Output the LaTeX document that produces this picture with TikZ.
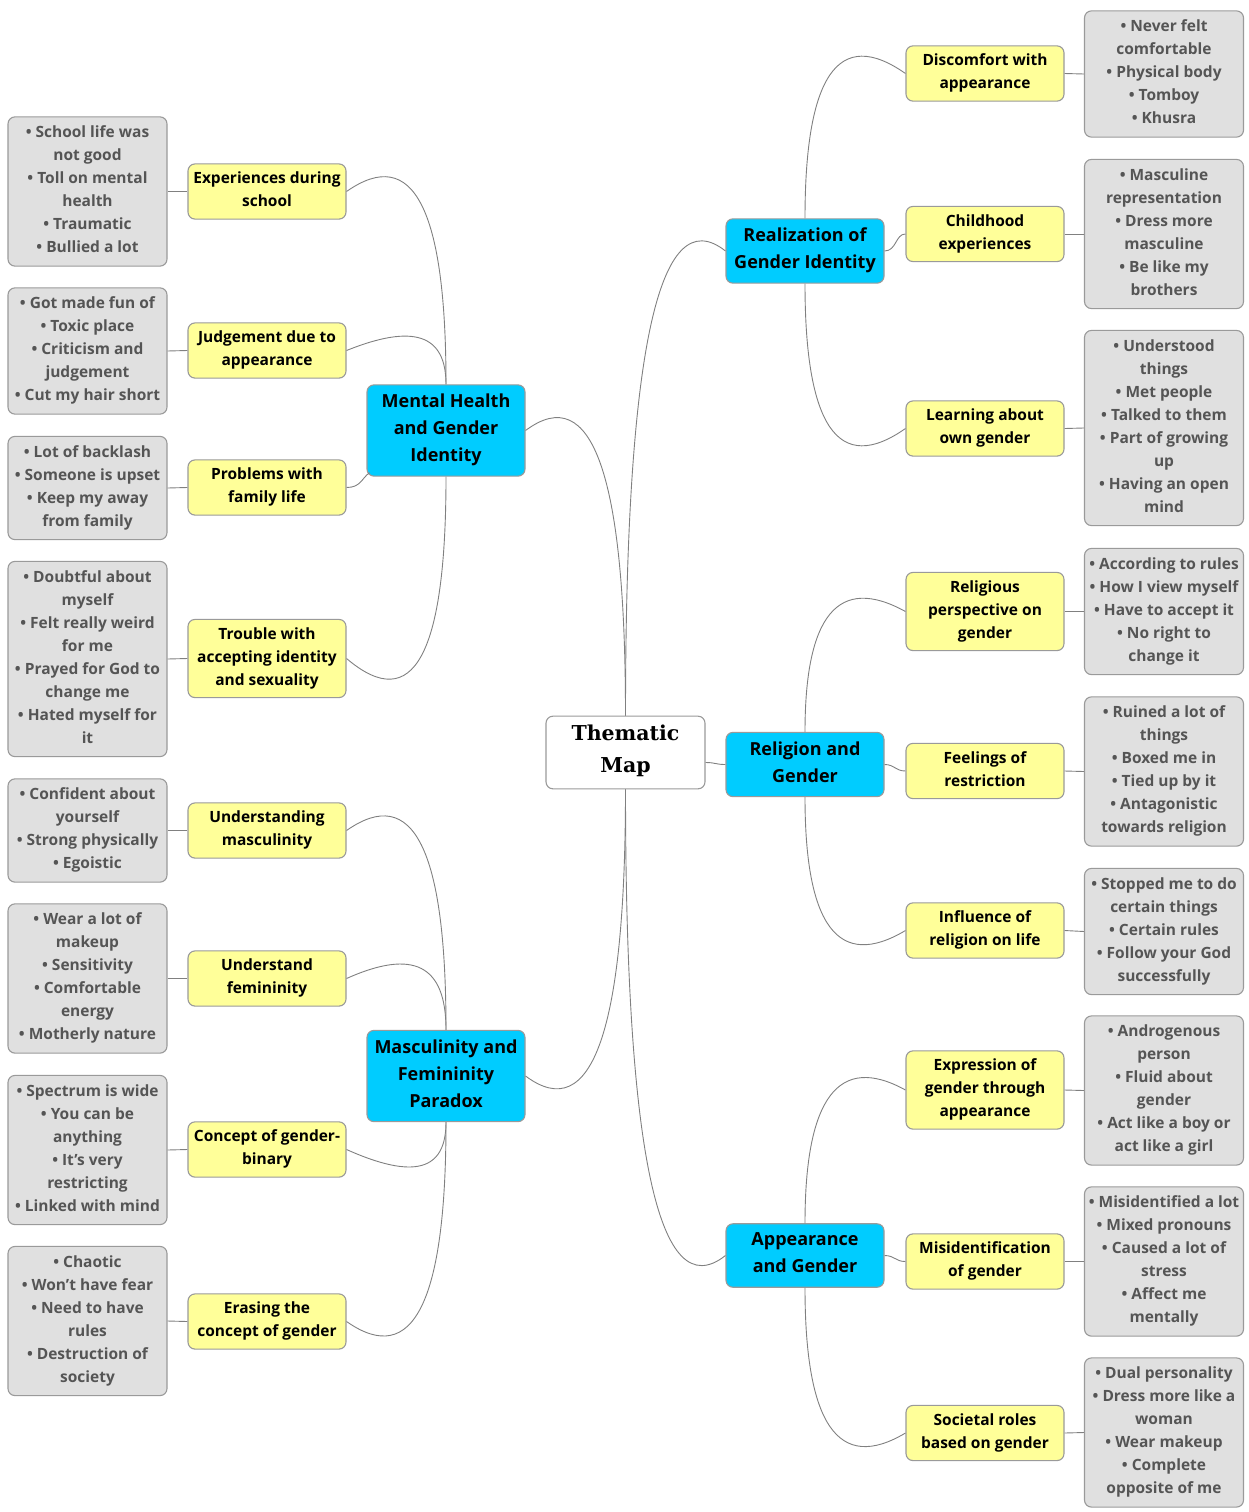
\documentclass[tikz,border=0pt]{standalone}
\usepackage{fontspec}
\setmainfont{Open Sans}
\newfontfamily\mapfont{DejaVu Serif}
\usetikzlibrary{calc}

\definecolor{topicblue}{HTML}{00CCFF}
\definecolor{subyellow}{HTML}{FFFF99}
\definecolor{notegray}{HTML}{E0E0E0}
\definecolor{notetext}{HTML}{555555}
\definecolor{edgegray}{HTML}{808080}
\definecolor{boxline}{HTML}{9A9A9A}

% struts that sit the text a little lower in its box
\newcommand{\topstrut}{\rule{0pt}{\dimexpr0.7\baselineskip+2.5pt\relax}}
\newcommand{\botstrut}{\rule[\dimexpr-0.3\baselineskip+2.5pt\relax]{0pt}{0pt}}

\begin{document}
\begin{tikzpicture}[x=1pt, y=-1pt]
    \tikzset{
        central/.style={rectangle, rounded corners=7pt, draw=boxline, line width=1.1pt, fill=white,
                align=center, minimum width=159pt, inner ysep=9pt,
                font=\mapfont\bfseries\fontsize{20.5pt}{32pt}\selectfont,
                execute at begin node=\topstrut, execute at end node=\botstrut},
        topic/.style={rectangle, rounded corners=7pt, draw=boxline, line width=1.1pt, fill=topicblue,
                align=center, minimum width=158pt, inner ysep=9pt,
                font=\bfseries\fontsize{18pt}{27pt}\selectfont,
                execute at begin node=\topstrut, execute at end node=\botstrut},
        sub/.style={rectangle, rounded corners=7pt, draw=boxline, line width=1.1pt, fill=subyellow,
                align=center, minimum width=158pt, inner ysep=8pt,
                font=\bfseries\fontsize{15.5pt}{23pt}\selectfont,
                execute at begin node=\topstrut, execute at end node=\botstrut},
        note/.style={rectangle, rounded corners=7pt, draw=boxline, line width=1.1pt, fill=notegray,
                text=notetext, align=center, minimum width=159pt, inner ysep=9pt, inner xsep=2pt,
                font=\bfseries\fontsize{15.5pt}{23pt}\selectfont,
                execute at begin node=\topstrut, execute at end node=\botstrut},
        link/.style={draw=edgegray, line width=0.9pt}
    }
    \useasboundingbox (0,0) rectangle (1249,1512);

    % centre and main topics
    \node[central] (map) at (625.5,752.5) {Thematic\\Map};
    \node[topic] (mental) at (446,430.5) {Mental Health\\and Gender\\Identity};
    \node[topic] (mascu) at (446,1076) {Masculinity and\\Femininity\\Paradox};
    \node[topic] (realiz) at (805,251) {Realization of\\Gender Identity};
    \node[topic] (relig) at (805,764.5) {Religion and\\Gender};
    \node[topic] (appear) at (805,1255.5) {Appearance\\and Gender};

    % left subtopics
    \node[sub] (school) at (267,191.5) {Experiences during\\school};
    \node[sub] (judge) at (267,350.5) {Judgement due to\\appearance};
    \node[sub] (family) at (267,487.5) {Problems with\\family life};
    \node[sub] (trouble) at (267,658.5) {Trouble with\\accepting identity\\and sexuality};
    \node[sub] (mascul) at (267,830.5) {Understanding\\masculinity};
    \node[sub] (femin) at (267,978.5) {Understand\\femininity};
    \node[sub] (binary) at (267,1149.5) {Concept of gender-\\binary};
    \node[sub] (erase) at (267,1321.5) {Erasing the\\concept of gender};

    % right subtopics
    \node[sub] (discomf) at (985,73.5) {Discomfort with\\appearance};
    \node[sub] (childh) at (985,234) {Childhood\\experiences};
    \node[sub] (learn) at (985,428.5) {Learning about\\own gender};
    \node[sub] (persp) at (985,611.5) {Religious\\perspective on\\gender};
    \node[sub] (restr) at (985,771) {Feelings of\\restriction};
    \node[sub] (influ) at (985,930.5) {Influence of\\religion on life};
    \node[sub] (express) at (985,1090) {Expression of\\gender through\\appearance};
    \node[sub] (misid) at (985,1261.5) {Misidentification\\of gender};
    \node[sub] (roles) at (985,1433) {Societal roles\\based on gender};

    % left notes
    \node[note] (nschool) at (87.5,191.5) {• School life was\\not good\\• Toll on mental\\health\\• Traumatic\\• Bullied a lot};
    \node[note] (njudge) at (87.5,351) {• Got made fun of\\• Toxic place\\• Criticism and\\judgement\\• Cut my hair short};
    \node[note] (nfamily) at (87.5,488) {• Lot of backlash\\• Someone is upset\\• Keep my away\\from family};
    \node[note] (ntrouble) at (87.5,659) {• Doubtful about\\myself\\• Felt really weird\\for me\\• Prayed for God to\\change me\\• Hated myself for\\it};
    \node[note] (nmascul) at (87.5,830.5) {• Confident about\\yourself\\• Strong physically\\• Egoistic};
    \node[note] (nfemin) at (87.5,978.5) {• Wear a lot of\\makeup\\• Sensitivity\\• Comfortable\\energy\\• Motherly nature};
    \node[note] (nbinary) at (87.5,1150) {• Spectrum is wide\\• You can be\\anything\\• It’s very\\restricting\\• Linked with mind};
    \node[note] (nerase) at (87.5,1321) {• Chaotic\\• Won’t have fear\\• Need to have\\rules\\• Destruction of\\society};

    % right notes
    \node[note] (ndiscomf) at (1164,74) {• Never felt\\comfortable\\• Physical body\\• Tomboy\\• Khusra};
    \node[note] (nchildh) at (1164,234) {• Masculine\\representation\\• Dress more\\masculine\\• Be like my\\brothers};
    \node[note] (nlearn) at (1164,428) {• Understood\\things\\• Met people\\• Talked to them\\• Part of growing\\up\\• Having an open\\mind};
    \node[note] (npersp) at (1164,611.5) {• According to rules\\• How I view myself\\• Have to accept it\\• No right to\\change it};
    \node[note] (nrestr) at (1164,771.5) {• Ruined a lot of\\things\\• Boxed me in\\• Tied up by it\\• Antagonistic\\towards religion};
    \node[note] (ninflu) at (1164,931.5) {• Stopped me to do\\certain things\\• Certain rules\\• Follow your God\\successfully};
    \node[note] (nexpress) at (1164,1090.5) {• Androgenous\\person\\• Fluid about\\gender\\• Act like a boy or\\act like a girl};
    \node[note] (nmisid) at (1164,1261.5) {• Misidentified a lot\\• Mixed pronouns\\• Caused a lot of\\stress\\• Affect me\\mentally};
    \node[note] (nroles) at (1164,1432.5) {• Dual personality\\• Dress more like a\\woman\\• Wear makeup\\• Complete\\opposite of me};

    \coordinate (mapr) at ($(map.east)+(0,10)$);
    \coordinate (mentalsw) at ($(mental.south west)+(3,-4)$);

    % centre to topics
    \draw[link] (mental.east) .. controls +(67,-50) and +(0,-240) .. (map.north);
    \draw[link] (mascu.east) .. controls +(67,50) and +(0,240) .. (map.south);
    \draw[link] (realiz.west) .. controls +(-67,-53) and +(0,-363) .. (map.north);
    \draw[link] (mapr) .. controls +(10,0) and +(-10,0) .. (relig.west);
    \draw[link] (appear.west) .. controls +(-67,53) and +(0,363) .. (map.south);

    % topics to subtopics
    \draw[link] (school.east) .. controls +(67,-47) and +(0,-175) .. (mental.north);
    \draw[link] (judge.east) .. controls +(67,-27) and +(0,-50) .. (mental.north);
    \draw[link] (family.east) .. controls +(14,0) and +(-8,6) .. (mentalsw);
    \draw[link] (trouble.east) .. controls +(67,57) and +(0,178) .. (mental.south);
    \draw[link] (mascul.east) .. controls +(67,-47) and +(0,-180) .. (mascu.north);
    \draw[link] (femin.east) .. controls +(67,-30) and +(0,-65) .. (mascu.north);
    \draw[link] (binary.east) .. controls +(67,30) and +(0,49) .. (mascu.south);
    \draw[link] (erase.east) .. controls +(67,47) and +(0,179) .. (mascu.south);

    \draw[link] (discomf.west) .. controls +(-67,-47) and +(0,-143) .. (realiz.north);
    \draw[link] (childh.west) .. controls +(-10,0) and +(12,0) .. (realiz.east);
    \draw[link] (learn.west) .. controls +(-67,47) and +(0,143) .. (realiz.south);
    \draw[link] (persp.west) .. controls +(-67,-37) and +(0,-117) .. (relig.north);
    \draw[link] (restr.west) .. controls +(-10,0) and +(10,0) .. (relig.east);
    \draw[link] (influ.west) .. controls +(-67,40) and +(0,129) .. (relig.south);
    \draw[link] (express.west) .. controls +(-67,-37) and +(0,-125) .. (appear.north);
    \draw[link] (misid.west) .. controls +(-10,0) and +(10,0) .. (appear.east);
    \draw[link] (roles.west) .. controls +(-67,40) and +(0,137) .. (appear.south);

    % subtopics to notes
    \foreach \s in {school, judge, family, trouble, mascul, femin, binary, erase}
        \draw[link] (n\s.east) -- (\s.west);
    \foreach \s in {discomf, childh, learn, persp, restr, influ, express, misid, roles}
        \draw[link] (\s.east) -- (n\s.west);
\end{tikzpicture}
\end{document}
